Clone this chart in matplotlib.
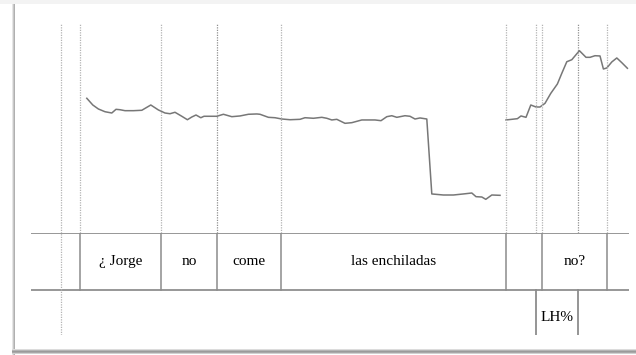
import numpy as np
import matplotlib.pyplot as plt
from matplotlib.patches import Rectangle

# pitch track (s, Hz); nan marks the voiceless gap
t = [0.279, 0.309, 0.337, 0.370, 0.404, 0.425, 0.445, 0.470, 0.512, 0.554,
     0.599, 0.637, 0.670, 0.695, 0.720, 0.754, 0.782, 0.804, 0.825, 0.849,
     0.865, 0.929, 0.962, 1.004, 1.045, 1.087, 1.129, 1.145, 1.187, 1.220,
     1.254, 1.295, 1.345, 1.370, 1.412, 1.454, 1.479, 1.504, 1.529, 1.570,
     1.604, 1.654, 1.687, 1.720, 1.750, 1.779, 1.804, 1.829, 1.870, 1.895,
     1.920, 1.945, 1.979, 2.004, 2.062, 2.112, 2.162, 2.204, 2.225, 2.254,
     2.274, 2.304, 2.345, 2.360,
     2.375, 2.404, 2.432, 2.450, 2.475, 2.499, 2.525, 2.545, 2.570, 2.599,
     2.632, 2.654, 2.679, 2.704, 2.742, 2.775, 2.795, 2.820, 2.845, 2.862,
     2.879, 2.904, 2.929, 2.954, 2.982]
f0 = [243.4, 235.0, 230.0, 226.6, 225.0, 229.6, 229.1, 227.9, 227.9, 228.4,
      235.0, 228.8, 225.0, 224.1, 225.9, 220.9, 216.6, 220.0, 222.5, 219.1,
      220.9, 220.9, 223.4, 220.4, 221.3, 223.4, 223.8, 223.4, 219.6, 219.1,
      217.5, 216.6, 217.1, 219.1, 218.4, 219.6, 218.4, 216.3, 217.1, 212.1,
      212.9, 216.3, 216.3, 216.3, 215.4, 220.4, 221.6, 219.6, 221.6, 220.9,
      217.5, 218.8, 217.5, 123.8, 122.5, 122.5, 123.8, 125.0, 120.4, 120.0,
      117.1, 122.5, 122.1, np.nan,
      216.3, 217.1, 217.9, 221.3, 219.6, 235.0, 232.5, 232.5, 237.1, 249.6,
      261.3, 274.6, 289.1, 291.6, 302.9, 294.6, 294.6, 296.6, 296.3, 280.0,
      281.3, 288.8, 293.8, 287.9, 280.9]

# tiers
word_bounds = [0.245, 0.65, 0.93, 1.25, 2.375, 2.555, 2.88]
words = ["¿ Jorge", "no", "come", "las enchiladas", "", "no?"]
tone_bounds = [2.525, 2.735]
tones = ["LH%"]
extra_mark = 0.15
duration = 2.99

W, H = 636, 355
fig = plt.figure(figsize=(W / 100, H / 100), dpi=100)
fig.patch.set_facecolor("white")


def box(x0, y0, x1, y1):
    # pixel box (top-left origin) -> figure fraction
    return [x0 / W, (H - y1) / H, (x1 - x0) / W, (y1 - y0) / H]


# page with drop shadow
fig.add_artist(Rectangle((0, 1 - 4 / H), 1, 4 / H, transform=fig.transFigure,
                         color="#f3f3f3", lw=0))
for i, c in enumerate(["#e6e6e6", "#c8c8c8", "#b0b0b0"]):
    fig.add_artist(Rectangle(((12 + i) / W, 0), 1 / W, 1 - 4 / H,
                             transform=fig.transFigure, color=c, lw=0))
for i, c in enumerate(["#dcdcdc", "#b4b4b4", "#9a9a9a", "#a8a8a8", "#d0d0d0"]):
    fig.add_artist(Rectangle((12 / W, (H - 350 - i) / H), 1, 1 / H,
                             transform=fig.transFigure, color=c, lw=0))

ax = fig.add_axes(box(31, 23, 629, 233))
ax.plot(t, f0, color="#777777", lw=1.1)
for b in [extra_mark] + word_bounds + tone_bounds:
    dark = b in (0.93, 2.735)
    ax.axvline(b, color="#909090" if dark else "#b4b4b4", lw=0.9,
               ls=(0, (1, 1)))
ax.set_xlim(0, duration)
ax.set_ylim(75, 337.5)
ax.axis("off")

tx = fig.add_axes(box(31, 233, 629, 335))
tx.set_xlim(0, duration)
tx.set_ylim(1.79, 0)
tx.axis("off")
tx.axhline(0, color="#7a7a7a", lw=1.1)
tx.axhline(1, color="#7a7a7a", lw=1.1)
tx.axvline(extra_mark, color="#b4b4b4", lw=0.9, ls=(0, (1, 1)))
for b in word_bounds:
    tx.plot([b, b], [0, 1], color="#8c8c8c", lw=1.1)
for b in tone_bounds:
    tx.plot([b, b], [1, 1.79], color="#8c8c8c", lw=1.3)
for a, b, w in zip(word_bounds[:-1], word_bounds[1:], words):
    tx.text((a + b) / 2, 0.5, w, ha="center", va="center",
            fontsize=11, family="Liberation Serif", color="black")
for a, b, w in zip(tone_bounds[:-1], tone_bounds[1:], tones):
    tx.text((a + b) / 2, 1.49, w, ha="center", va="center",
            fontsize=11, family="Liberation Serif", color="black")

fig.savefig("out.png", dpi=100)
